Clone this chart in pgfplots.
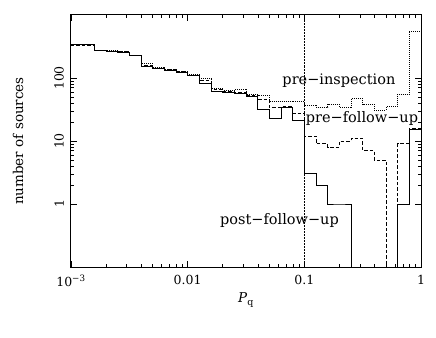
\documentclass[border=0pt]{standalone}
\usepackage{pgfplots}
\pgfplotsset{compat=1.18}
\usepackage{pgfplotstable}
\usepackage{fontspec}
\setmainfont{DejaVu Serif}

% bin left edges (0.1 dex), counts; 0.01 = empty bin (below ymin)
\pgfplotstableread{
x          post   pre   insp
0.001      335    335   340
0.0012589  335    335   340
0.0015849  269    271   276
0.0019953  265    267   272
0.0025119  258    260   265
0.0031623  224    228   232
0.0039811  155    160   170
0.0050119  141    144   150
0.0063096  133    135   140
0.0079433  122    125   130
0.01       108    110   113
0.012589   81     90    98
0.015849   61     66    70
0.019953   58     62    65
0.025119   56     60    66
0.031623   51     53    56
0.039811   32     45    53
0.050119   23     34    43
0.063096   34     35    43
0.079433   21     27    42
0.1        3      12    37
0.12589    2      9     34.5
0.15849    1      8     38
0.19953    1      10    34.5
0.25119    0.01   11    47
0.31623    0.01   7     38
0.39811    0.01   5     31
0.50119    0.01   0.01  35
0.63096    1      9     55
0.79433    15     16    560
1          15     16    560
}\hist

\begin{document}
\begin{tikzpicture}
\useasboundingbox (-71bp,-71bp) rectangle (365bp,267bp);
\begin{axis}[
    at={(0,0)}, anchor=south west,
    scale only axis, width=350bp, height=252bp,
    xmode=log, ymode=log,
    xmin=0.001, xmax=1, ymin=0.1, ymax=1000,
    xtick={0.001,0.01,0.1,1},
    xticklabels={10\textsuperscript{−3},0.01,0.1,1},
    ytick={1,10,100},
    yticklabels={1,10,100},
    tick pos=both, tick align=inside,
    major tick length=6bp, minor tick length=3.5bp,
    every tick/.style={black, line width=0.6bp},
    axis line style={line width=1bp},
    font=\fontsize{12.5bp}{15bp}\selectfont,
    xticklabel style={anchor=north, inner sep=0pt, yshift=-8bp},
    yticklabel style={xshift=-7bp, rotate=90, anchor=south, inner sep=0pt},
    xlabel={\textit{P}\textsubscript{q}},
    xlabel style={at={(axis description cs:0.5,0)}, anchor=center, yshift=-33bp, font=\fontsize{13.5bp}{16bp}\selectfont},
    ylabel={number of sources},
    ylabel style={at={(axis description cs:-0.151,0.5)}, anchor=center, font=\fontsize{13.5bp}{16bp}\selectfont},
]
\draw[densely dotted, line width=0.5bp] (axis cs:0.1,0.1) -- (axis cs:0.1,1000);
\addplot[const plot mark left, black, line width=0.5bp, dash pattern=on 0.8bp off 1.2bp] table[x=x, y=insp] {\hist};
\addplot[const plot mark left, black, line width=0.8bp, dash pattern=on 3.5bp off 2bp] table[x=x, y=pre] {\hist};
\addplot[const plot mark left, black, line width=0.9bp] table[x=x, y=post] {\hist};
\node[font=\fontsize{14.5bp}{17bp}\selectfont] at (axis cs:0.198,92) {pre−inspection};
\node[font=\fontsize{14.5bp}{17bp}\selectfont] at (axis cs:0.312,22.8) {pre−follow−up};
\node[font=\fontsize{14.5bp}{17bp}\selectfont] at (axis cs:0.0612,0.54) {post−follow−up};
\end{axis}
\end{tikzpicture}
\end{document}
